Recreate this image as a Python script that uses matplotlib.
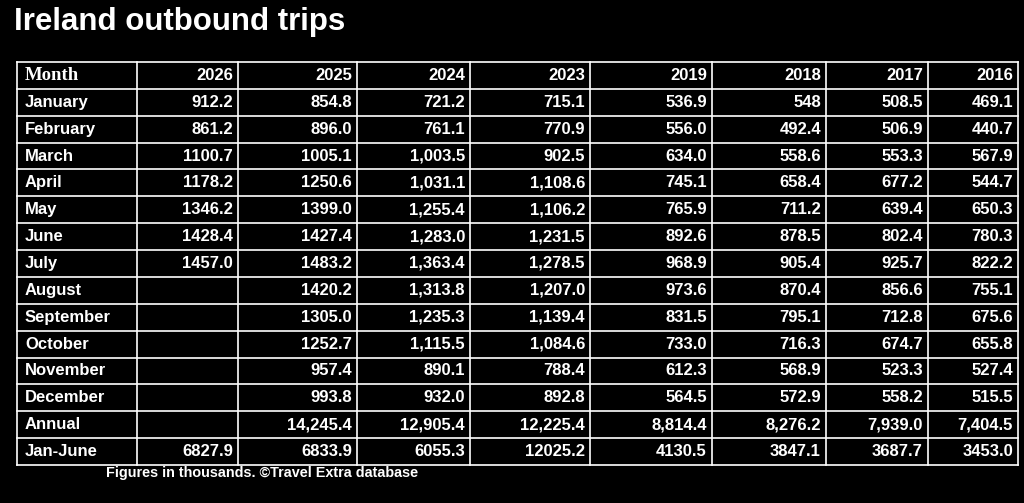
import matplotlib
matplotlib.use("Agg")
import matplotlib.pyplot as plt

title = "Ireland outbound trips"
footer = "Figures in thousands. ©Travel Extra database"
headers = ["Month", "2026", "2025", "2024", "2023", "2019", "2018", "2017", "2016"]
months = ["January", "February", "March", "April", "May", "June", "July", "August",
          "September", "October", "November", "December", "Annual", "Jan-June"]
y2026 = ["912.2", "861.2", "1100.7", "1178.2", "1346.2", "1428.4", "1457.0", "", "", "", "", "", "", "6827.9"]
y2025 = ["854.8", "896.0", "1005.1", "1250.6", "1399.0", "1427.4", "1483.2", "1420.2", "1305.0", "1252.7", "957.4", "993.8", "14,245.4", "6833.9"]
y2024 = ["721.2", "761.1", "1,003.5", "1,031.1", "1,255.4", "1,283.0", "1,363.4", "1,313.8", "1,235.3", "1,115.5", "890.1", "932.0", "12,905.4", "6055.3"]
y2023 = ["715.1", "770.9", "902.5", "1,108.6", "1,106.2", "1,231.5", "1,278.5", "1,207.0", "1,139.4", "1,084.6", "788.4", "892.8", "12,225.4", "12025.2"]
y2019 = ["536.9", "556.0", "634.0", "745.1", "765.9", "892.6", "968.9", "973.6", "831.5", "733.0", "612.3", "564.5", "8,814.4", "4130.5"]
y2018 = ["548", "492.4", "558.6", "658.4", "711.2", "878.5", "905.4", "870.4", "795.1", "716.3", "568.9", "572.9", "8,276.2", "3847.1"]
y2017 = ["508.5", "506.9", "553.3", "677.2", "639.4", "802.4", "925.7", "856.6", "712.8", "674.7", "523.3", "558.2", "7,939.0", "3687.7"]
y2016 = ["469.1", "440.7", "567.9", "544.7", "650.3", "780.3", "822.2", "755.1", "675.6", "655.8", "527.4", "515.5", "7,404.5", "3453.0"]
columns = [months, y2026, y2025, y2024, y2023, y2019, y2018, y2017, y2016]

fig = plt.figure(figsize=(10.24, 5.03), dpi=100, facecolor="black")
ax = fig.add_axes([0, 0, 1, 1])
ax.set_xlim(0, 1024); ax.set_ylim(503, 0); ax.axis("off")
ax.set_facecolor("black")

xs = [17, 137, 238, 357, 470, 590, 712, 826, 928, 1018]
top, bottom = 62, 465
nrows = len(months) + 1
rh = (bottom - top) / nrows
for x in xs:
    ax.plot([x, x], [top, bottom], color="white", lw=1.2)
for i in range(nrows + 1):
    y = top + i * rh
    ax.plot([xs[0], xs[-1]], [y, y], color="white", lw=1.2)

fam = ["Liberation Sans", "DejaVu Sans"]
fs = 12
for j, h in enumerate(headers):
    yc = top + rh / 2
    if j == 0:
        ax.text(xs[0] + 8, yc, h, color="white", fontsize=13.5, fontweight="bold",
                family="Liberation Serif", va="center", ha="left")
    else:
        ax.text(xs[j + 1] - 5, yc, h, color="white", fontsize=fs, fontweight="bold",
                family=fam, va="center", ha="right")
for j, col in enumerate(columns):
    for i, v in enumerate(col):
        yc = top + (i + 1.5) * rh
        if j == 0:
            ax.text(xs[0] + 8, yc, v, color="white", fontsize=fs, fontweight="bold",
                    family=fam, va="center", ha="left")
        else:
            ax.text(xs[j + 1] - 5, yc, v, color="white", fontsize=fs, fontweight="bold",
                    family=fam, va="center", ha="right")

ax.text(14, 22, title, color="white", fontsize=22.5, fontweight="bold", family=fam,
        va="center", ha="left")
ax.text(106, 473, footer, color="white", fontsize=10.4, fontweight="bold", family=fam,
        va="center", ha="left")

fig.savefig("out.png", dpi=100, facecolor="black")
